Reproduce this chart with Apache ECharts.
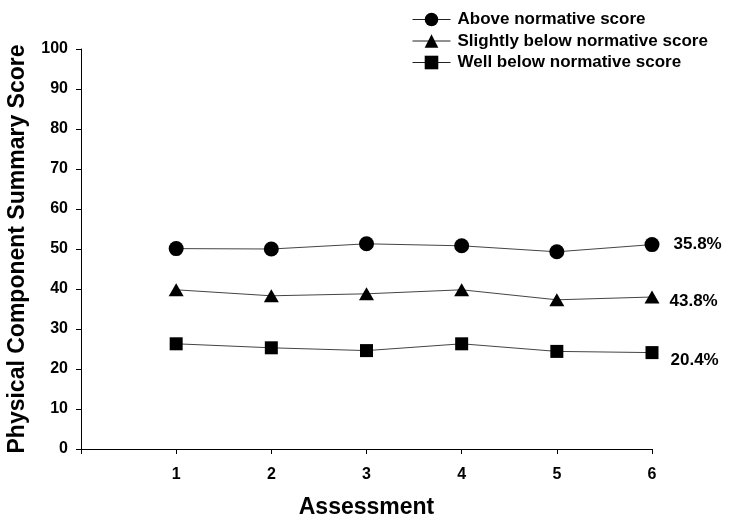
<!DOCTYPE html>
<html>
<head>
<meta charset="utf-8">
<script src="https://cdn.jsdelivr.net/npm/echarts@6/dist/echarts.min.js"></script>
<style>html,body{margin:0;padding:0;background:#fff;}#c{width:729px;height:520px;}</style>
</head>
<body>
<div id="c"></div>
<script>
var assessments = [1, 2, 3, 4, 5, 6];
var seriesNames = ['Above normative score', 'Slightly below normative score', 'Well below normative score'];
var aboveValues = [50.1, 50.0, 51.3, 50.8, 49.3, 51.1];
var slightlyValues = [39.8, 38.3, 38.8, 39.8, 37.3, 38.0];
var wellValues = [26.3, 25.3, 24.6, 26.3, 24.4, 24.1];
var endPercents = ['35.8%', '43.8%', '20.4%'];
var yTicks = [0, 10, 20, 30, 40, 50, 60, 70, 80, 90, 100];

var FONT = '"Liberation Sans", Arial, sans-serif';
var symbols = ['circle', 'triangle', 'rect'];
var symbolSizes = [15, [15, 13], 13];
var labelOffsets = [[0, 0], [-4, 4], [-2, 8]];
var allValues = [aboveValues, slightlyValues, wellValues];

function buildData(vals, idx) {
  return vals.map(function (v, i) {
    if (i === vals.length - 1) {
      return {
        value: [assessments[i], v],
        label: {
          show: true,
          position: 'right',
          distance: 14,
          offset: labelOffsets[idx],
          formatter: endPercents[idx],
          fontFamily: FONT, fontWeight: 'bold', fontSize: 17, color: '#000'
        }
      };
    }
    return [assessments[i], v];
  });
}

var series = seriesNames.map(function (name, idx) {
  return {
    name: name,
    type: 'line',
    data: buildData(allValues[idx], idx),
    symbol: symbols[idx],
    symbolSize: symbolSizes[idx],
    lineStyle: { color: '#444', width: 1 },
    itemStyle: { color: '#000' },
    z: 3
  };
});

var chart = echarts.init(document.getElementById('c'), null, { renderer: 'canvas' });
chart.setOption({
  animation: false,
  backgroundColor: '#fff',
  legend: {
    orient: 'vertical',
    left: 407,
    top: 6,
    itemWidth: 38,
    itemHeight: 17,
    itemGap: 4.5,
    data: seriesNames,
    textStyle: { fontFamily: FONT, fontWeight: 'bold', fontSize: 17, color: '#000', lineHeight: 17, padding: [0, 0, 0, 2] },
    itemStyle: { color: '#000' },
    lineStyle: { color: '#222', width: 1 }
  },
  grid: { left: 81, right: 77, top: 49, bottom: 71, containLabel: false, outerBoundsMode: 'none' },
  xAxis: {
    type: 'value',
    min: 0, max: 6, interval: 1,
    name: 'Assessment',
    nameLocation: 'middle',
    nameGap: 47,
    nameTextStyle: { fontFamily: FONT, fontWeight: 'bold', fontSize: 23, color: '#000' },
    axisLine: { show: true, lineStyle: { color: '#000', width: 1 } },
    axisTick: { show: true, length: 5, lineStyle: { color: '#000' } },
    axisLabel: {
      margin: 18,
      fontFamily: FONT, fontWeight: 'bold', fontSize: 16, color: '#000',
      formatter: function (v) { return v === 0 ? '' : String(v); }
    },
    splitLine: { show: false }
  },
  yAxis: {
    type: 'value',
    min: 0, max: 100, interval: 10,
    name: 'Physical Component Summary Score',
    nameLocation: 'middle',
    nameGap: 52,
    nameTextStyle: { fontFamily: FONT, fontWeight: 'bold', fontSize: 23, color: '#000' },
    axisLine: { show: true, lineStyle: { color: '#000', width: 1 } },
    axisTick: { show: true, length: 5, lineStyle: { color: '#000' } },
    axisLabel: {
      margin: 13,
      fontFamily: FONT, fontWeight: 'bold', fontSize: 16, color: '#000',
      formatter: function (v) { return yTicks.indexOf(v) >= 0 ? String(v) : ''; }
    },
    splitLine: { show: false }
  },
  series: series
});
</script>
</body>
</html>
